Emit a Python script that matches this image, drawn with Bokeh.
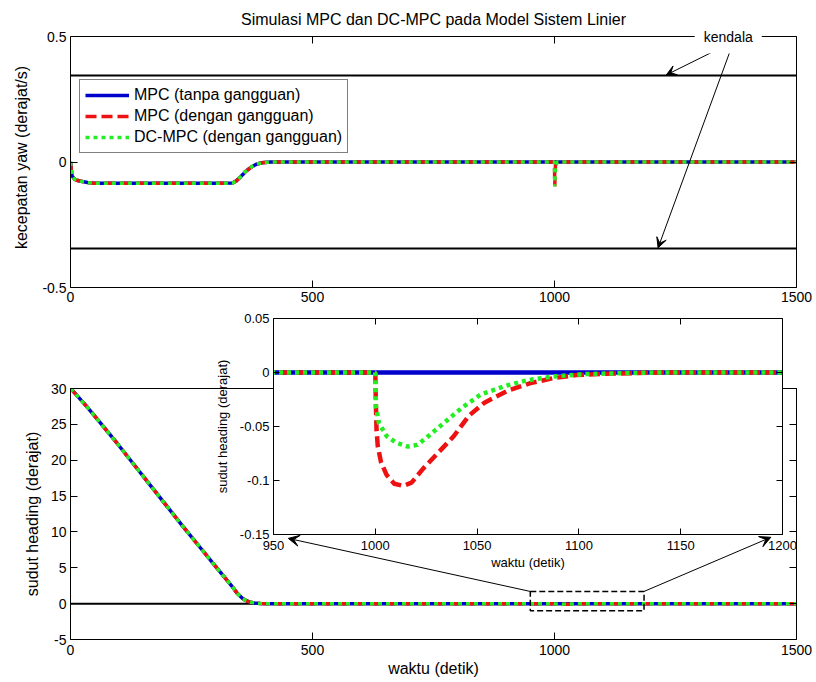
from bokeh.plotting import figure
from bokeh.models import (LinearAxis, FixedTicker, Range1d, Span, Label, Arrow,
                          VeeHead, Legend, LegendItem, BoxAnnotation, CustomJSTickFormatter)
from bokeh.layouts import column
from bokeh.embed import file_html
from bokeh.resources import INLINE

FONT = "Liberation Sans"
BLUE = "#0000cc"
RED = "#ee1111"
GREEN = "#22ee22"

title_text = "Simulasi MPC dan DC-MPC pada Model Sistem Linier"
legend_labels = ["MPC (tanpa gangguan)", "MPC (dengan gangguan)", "DC-MPC (dengan gangguan)"]
note_text = "kendala"

# ---------------- data ----------------
# yaw rate (deg/s), undisturbed MPC
yaw_t = [0, 1, 3, 8, 15, 22, 35, 49, 100, 200, 300, 335, 342, 349, 356, 362, 372, 383, 395, 413, 1500]
yaw_mpc = [0, -0.02, -0.055, -0.068, -0.074, -0.077, -0.082, -0.085, -0.085, -0.085, -0.085,
           -0.084, -0.076, -0.064, -0.05, -0.037, -0.022, -0.01, -0.003, 0, 0]
# yaw rate with disturbance at t = 1000 s (both disturbed controllers)
yaw_dist_t = [0, 1, 3, 8, 15, 22, 35, 49, 100, 200, 300, 335, 342, 349, 356, 362, 372, 383, 395, 413,
              999, 1000, 1000.5, 1002, 1006, 1500]
yaw_dist = [0, -0.02, -0.055, -0.068, -0.074, -0.077, -0.082, -0.085, -0.085, -0.085, -0.085,
            -0.084, -0.076, -0.064, -0.05, -0.037, -0.022, -0.01, -0.003, 0,
            0, 0, -0.097, -0.012, 0, 0]
kendala = [0.345, -0.345]

# heading angle (deg), undisturbed MPC
head_t = [0, 3, 32, 63, 97, 131, 165, 199, 233, 267, 301, 335, 345, 355, 362, 369, 380, 392, 410, 1500]
head_mpc = [30, 29.8, 27.6, 25.1, 22.3, 19.4, 16.5, 13.6, 10.7, 7.9, 5.1, 2.3, 1.4, 0.75, 0.45,
            0.25, 0.1, 0.03, 0, 0]
# heading deviation after the disturbance (deg)
dist_t_red = [1000, 1000.3, 1000.6, 1001.2, 1002.8, 1005.6, 1009.3, 1013.7, 1017.8, 1023.5, 1031,
              1038.5, 1046, 1053.6, 1064.9, 1076.2, 1087.5, 1098.8, 1112, 1127, 1140]
dist_red = [0, -0.031, -0.053, -0.068, -0.083, -0.095, -0.103, -0.105, -0.102, -0.089, -0.074,
            -0.059, -0.040, -0.028, -0.017, -0.0098, -0.0052, -0.0024, -0.0012, -0.0006, 0]
dist_t_green = [1000, 1000.3, 1001.8, 1005.6, 1010.3, 1016, 1020.6, 1025.4, 1032.9, 1042.3, 1051.7,
                1063, 1074.3, 1087.5, 1102.6, 1121.5, 1140]
dist_green = [0, -0.031, -0.047, -0.059, -0.065, -0.0686, -0.067, -0.060, -0.048, -0.033, -0.0205,
              -0.0129, -0.0073, -0.0037, -0.0015, -0.0006, 0]

head_red_t = head_t[:-1] + dist_t_red + [1500]
head_red = head_mpc[:-1] + dist_red + [0]
head_green_t = head_t[:-1] + dist_t_green + [1500]
head_green = head_mpc[:-1] + dist_green + [0]

x_ticks_main = [0, 500, 1000, 1500]
y_ticks_yaw = [-0.5, 0, 0.5]
y_ticks_head = [-5, 0, 5, 10, 15, 20, 25, 30]
x_ticks_inset = [950, 1000, 1050, 1100, 1150, 1200]
y_ticks_inset = [-0.15, -0.1, -0.05, 0, 0.05]
zoom_box = [950, 1185, -1.0, 1.7]   # left, right, bottom, top (data)

fmt = lambda: CustomJSTickFormatter(code="return String(Math.round(tick*1000)/1000)")


def make_fig(w, h, xr, yr, left, right, top, bottom):
    p = figure(width=w, height=h, x_range=Range1d(*xr), y_range=Range1d(*yr),
               output_backend="svg", toolbar_location=None,
               min_border_left=left, min_border_right=right,
               min_border_top=top, min_border_bottom=bottom)
    p.grid.visible = False
    p.outline_line_color = None
    p.border_fill_color = "white"
    p.background_fill_color = "white"
    return p


def style_axis(ax, ticks, fs, standoff, tick_len, label=None, label_fs="16px", label_standoff=5):
    ax.ticker = FixedTicker(ticks=ticks)
    ax.formatter = fmt()
    ax.major_tick_in = tick_len
    ax.major_tick_out = 0
    ax.minor_tick_line_color = None
    ax.axis_line_color = "black"
    ax.axis_line_width = 1
    ax.major_tick_line_color = "black"
    ax.major_label_text_font = FONT
    ax.major_label_text_font_size = fs
    ax.major_label_text_color = "black"
    ax.major_label_standoff = standoff
    if label is not None:
        ax.axis_label = label
        ax.axis_label_text_font = FONT
        ax.axis_label_text_font_size = label_fs
        ax.axis_label_text_font_style = "normal"
        ax.axis_label_text_color = "black"
        ax.axis_label_standoff = label_standoff


def mirror_axis(p, place, ticks, tick_len, bounds="auto"):
    # MATLAB-style box: ticks on the opposite side, no labels
    ax = LinearAxis(ticker=FixedTicker(ticks=ticks), major_tick_in=tick_len, major_tick_out=0,
                    minor_tick_line_color=None, axis_line_color="black",
                    major_tick_line_color="black", major_label_text_font_size="1px",
                    major_label_text_color=None, major_label_standoff=0, bounds=bounds)
    p.add_layout(ax, place)


def draw_series(p, xs, ys, width):
    r1 = p.line(xs[0], ys[0], line_color=BLUE, line_width=width)
    r2 = p.line(xs[1], ys[1], line_color=RED, line_width=width, line_dash="11 5")
    r3 = p.line(xs[2], ys[2], line_color=GREEN, line_width=width, line_dash="4 4")
    return r1, r2, r3


# ---------------- top: yaw rate ----------------
# the frame reaches 9 px above the 0.5 edge so that the "kendala" note can sit on that edge
Y1_TOP = 0.5 + 9 / 251
p1 = make_fig(816, 318, (0, 1500), (-0.5, Y1_TOP), 66, 16, 27, 31)
p1.title.text = title_text
p1.title.align = "center"
p1.title.text_font = FONT
p1.title.text_font_size = "16px"
p1.title.text_font_style = "normal"
p1.title.text_color = "black"
p1.title.standoff = 0
style_axis(p1.xaxis[0], x_ticks_main, "14px", 4, 7)
style_axis(p1.yaxis[0], y_ticks_yaw, "14px", 4, 7, "kecepatan yaw (derajat/s)", "16px", 9)
p1.yaxis[0].bounds = (-0.5, 0.5)
mirror_axis(p1, "right", y_ticks_yaw, 7, bounds=(-0.5, 0.5))
# box edge at y = 0.5 with inward tick marks at the x ticks
p1.add_layout(Span(location=0.5, dimension="width", line_color="black", line_width=1))
p1.segment(x0=x_ticks_main, y0=[0.5] * len(x_ticks_main), x1=x_ticks_main,
           y1=[0.5 - 7 / 251] * len(x_ticks_main), line_color="black", line_width=1)
for k in kendala:
    p1.add_layout(Span(location=k, dimension="width", line_color="black", line_width=2))
rs = draw_series(p1, [yaw_t, yaw_dist_t, yaw_dist_t], [yaw_mpc, yaw_dist, yaw_dist], 3.5)
legend = Legend(items=[LegendItem(label=l, renderers=[r]) for l, r in zip(legend_labels, rs)],
                location=(9, 134), border_line_color="black", border_line_width=1,
                background_fill_color="white", background_fill_alpha=1.0,
                label_text_font=FONT, label_text_font_size="16px", label_text_color="black",
                glyph_width=44, glyph_height=20, label_height=20, spacing=1, padding=5,
                margin=0, label_standoff=5)
p1.add_layout(legend)
p1.add_layout(Label(x=1359, y=0.5, text=note_text, text_align="center", text_baseline="middle",
                    text_font=FONT, text_font_size="14px", text_color="black",
                    background_fill_color="white", padding=9, level="overlay"))
p1.add_layout(Arrow(x_start=1346, y_start=0.457, x_end=1231, y_end=0.347,
                    line_color="black", line_width=1,
                    end=VeeHead(size=10, fill_color="black", line_color="black")))
p1.add_layout(Arrow(x_start=1367, y_start=0.464, x_end=1214, y_end=-0.342,
                    line_color="black", line_width=1,
                    end=VeeHead(size=10, fill_color="black", line_color="black")))

# ---------------- bottom: heading ----------------
p2 = make_fig(816, 364, (0, 1500), (-5, 30), 66, 16, 70, 43)
style_axis(p2.xaxis[0], x_ticks_main, "14px", 5, 7, "waktu (detik)", "16px", 2)
style_axis(p2.yaxis[0], y_ticks_head, "14px", 4, 7, "sudut heading (derajat)", "16px", 7)
mirror_axis(p2, "above", x_ticks_main, 7)
mirror_axis(p2, "right", y_ticks_head, 7)
p2.add_layout(Span(location=0, dimension="width", line_color="black", line_width=2, level="underlay"))
draw_series(p2, [head_t, head_red_t, head_green_t], [head_mpc, head_red, head_green], 3.5)
p2.add_layout(BoxAnnotation(left=zoom_box[0], right=zoom_box[1], bottom=zoom_box[2], top=zoom_box[3],
                            fill_alpha=0, line_color="black", line_alpha=1.0, line_width=1.5,
                            line_dash="6 3"))
p2.add_layout(Arrow(x_start=zoom_box[0], y_start=zoom_box[3], x_end=450, y_end=9.1,
                    line_color="black", line_width=1,
                    end=VeeHead(size=11, fill_color="black", line_color="black")))
p2.add_layout(Arrow(x_start=zoom_box[1], y_start=zoom_box[3], x_end=1447, y_end=9.25,
                    line_color="black", line_width=1,
                    end=VeeHead(size=11, fill_color="black", line_color="black")))

# ---------------- inset ----------------
p3 = make_fig(599, 276, (950, 1200), (-0.15, 0.05), 70, 20, 10, 50)
p3.border_fill_color = None
style_axis(p3.xaxis[0], x_ticks_inset, "13px", 6, 6, "waktu (detik)", "13px", 2)
style_axis(p3.yaxis[0], y_ticks_inset, "13px", 4, 6, "sudut heading (derajat)", "13px", 7)
mirror_axis(p3, "above", x_ticks_inset, 6)
mirror_axis(p3, "right", y_ticks_inset, 6)
draw_series(p3, [head_t, head_red_t, head_green_t], [head_mpc, head_red, head_green], 4.5)
p3.margin = (-374, 0, 0, 203)

layout = column(p1, p2, p3, spacing=0)
open("out.html", "w").write(file_html(layout, INLINE))
